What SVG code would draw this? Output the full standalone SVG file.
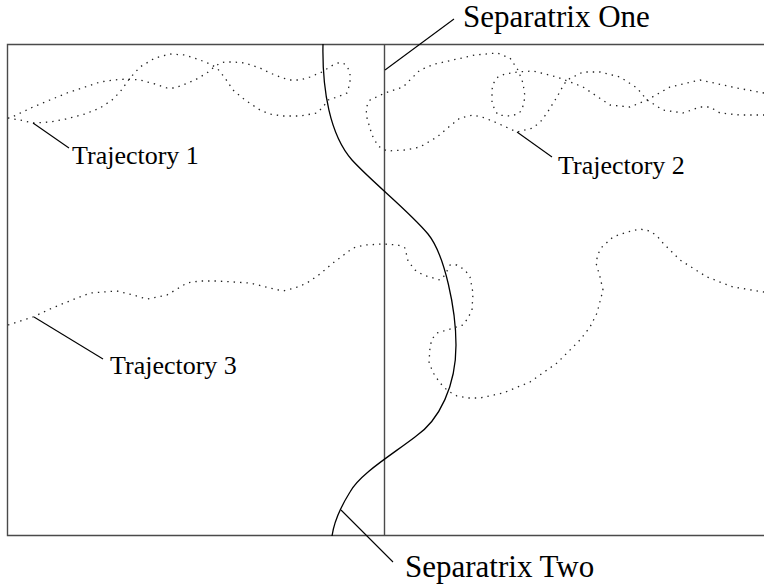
<svg xmlns="http://www.w3.org/2000/svg" width="764" height="585" viewBox="0 0 764 585">
<style>
.frame{fill:none;stroke:#4a4a4a;stroke-width:1.4}
.sep{fill:none;stroke:#000;stroke-width:1.3}
.leader{fill:none;stroke:#000;stroke-width:1.1}
.traj{fill:none;stroke:#222;stroke-width:1.3;stroke-dasharray:1.4 5;stroke-linejoin:round}
.lbl{font-family:"Liberation Serif","Times New Roman",serif;fill:#000}
.small{font-size:26px}
.big{font-size:31px}
</style>
<rect width="764" height="585" fill="#fff"/>
<g id="frame">
<path class="frame" d="M764,44.5 H7.5 V535.5 H764"/>
</g>
<g id="separatrix-one">
<line class="frame" x1="384.5" y1="44.5" x2="384.5" y2="535.5"/>
<text class="lbl big" x="463" y="26.5">Separatrix One</text>
</g>
<g id="separatrix-two">
<path class="sep" d="M323,44 C322,90 330,135 352,160 C372,182 410,212 428,234 C445,255 456,310 456,345 C456,385 440,420 415,437 C390,456 360,474 350,492 C340,508 334,522 332,536"/>
<text class="lbl big" x="405" y="577">Separatrix Two</text>
</g>
<g id="trajectory-1">
<path class="traj" d="M8,118 L20,120 L33,123 L50,122 L66,119 L85,114 L100,108 L112,100 L120,92 L130,78 L140,67 L155,58 L170,54 L185,55 L200,60 L210,64 L217,68 L225,78 L233,90 L245,100 L260,110 L270,114 L283,116 L300,116 L317,113 L323,107 L328,100 L340,96 L347,93 L350,83 L350,73 L347,66 L343,63 L338,63 L333,65 L322,72 L310,77 L300,80 L290,80 L283,78 L270,73 L260,68 L245,63 L233,62 L225,62 L220,63 L213,68 L207,73 L195,80 L183,85 L175,88 L167,88 L155,84 L140,80 L127,79 L113,80 L100,82 L85,87 L67,93 L50,100 L33,107 L10,118"/>
<text class="lbl small" x="72" y="164">Trajectory 1</text>
</g>
<g id="trajectory-2">
<path class="traj" d="M764,93 L737,88 L700,80 L670,87 L647,100 L630,107 L610,105 L583,87 L557,77 L533,71 L517,72 L505,74 L498,77 L493,84 L492,90 L492,103 L495,110 L498,115 L510,116 L518,114 L522,110 L525,97 L523,83 L518,70 L510,58 L497,53 L475,55 L453,60 L435,64 L420,70 L410,80 L403,87 L385,93 L370,100 L366,108 L367,118 L372,135 L378,146 L387,151 L405,150 L420,147 L437,137 L450,126 L460,118 L473,115 L485,118 L497,123 L517,132 L533,128 L541,121 L547,113 L557,97 L563,86 L567,80 L583,72 L600,72 L620,77 L637,88 L647,100 L663,110 L683,113 L700,107 L710,107 L720,113 L740,115 L764,115"/>
<text class="lbl small" x="558" y="173.5">Trajectory 2</text>
</g>
<g id="trajectory-3">
<path class="traj" d="M8,325 L33,317 L50,309 L67,302 L90,293 L117,291 L133,295 L147,299 L167,295 L187,283 L200,281 L217,281 L250,283 L270,288 L283,291 L295,288 L307,283 L320,274 L333,263 L353,248 L365,245 L383,244 L398,245 L405,248 L408,261 L415,270 L423,275 L440,280 L445,275 L450,265 L457,265 L465,270 L470,277 L473,293 L472,310 L468,318 L463,325 L447,330 L437,333 L432,339 L430,347 L429,363 L434,374 L440,383 L448,391 L457,396 L468,398 L480,398 L503,393 L530,382 L557,363 L580,340 L590,327 L597,313 L603,290 L600,277 L596,263 L598,254 L602,247 L613,237 L627,232 L640,229 L650,231 L657,236 L663,243 L680,260 L707,277 L733,287 L764,292"/>
<text class="lbl small" x="110" y="374">Trajectory 3</text>
</g>
<g id="connectors">
<line class="leader" x1="385" y1="70" x2="454" y2="19"/>
<line class="leader" x1="341" y1="510" x2="393" y2="562"/>
<line class="leader" x1="33" y1="123" x2="69" y2="148"/>
<line class="leader" x1="517" y1="132" x2="552" y2="157"/>
<line class="leader" x1="34" y1="317" x2="103" y2="359"/>
</g>
</svg>
